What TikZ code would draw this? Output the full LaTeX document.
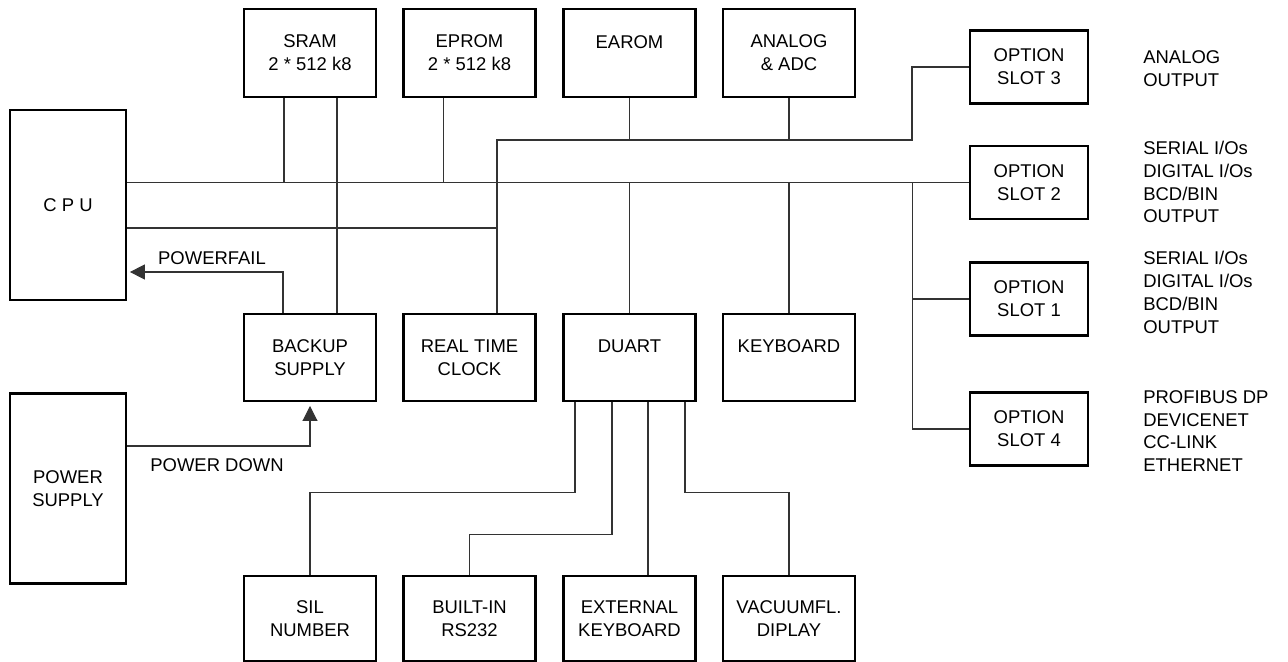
\documentclass[tikz,border=0pt]{standalone}
\usepackage{fontspec}
\setmainfont{Liberation Sans}
\usetikzlibrary{positioning,arrows.meta,calc}
\definecolor{wire}{HTML}{333333}

\begin{document}
\begin{tikzpicture}[
  x=0.02cm,y=-0.02cm,
  font=\fontsize{10.5}{13}\selectfont,>={Triangle[length=3mm,width=3mm]},
  blk/.style={draw,line width=1.4pt,minimum width=2.64cm,minimum height=1.75cm,align=center,inner sep=0pt},
  lowblk/.style={blk,minimum height=1.7cm},
  tall/.style={blk,minimum width=2.32cm,minimum height=3.8cm},
  slot/.style={blk,minimum width=2.36cm,minimum height=1.46cm},
  wire/.style={draw=wire,line width=0.6pt},
  note/.style={align=left,anchor=west,inner sep=0pt},
]
\useasboundingbox (0,0) rectangle (1288,662);
\node[tall] (cpu) at (68,205) {C P U};
\node[tall] (psu) at (68,488.5) {POWER\\SUPPLY};
% upper row
\foreach \nm/\x/\lab in {sram/310/{SRAM\\2 * 512 k8},eprom/469.5/{EPROM\\2 * 512 k8},earom/629.5/{EAROM\\~},analog/789/{ANALOG\\\& ADC}}{
  \node[blk] (\nm) at (\x,53) {\lab};
}
% middle row
\foreach \nm/\x/\lab in {backup/310/{BACKUP\\SUPPLY},rtc/469.5/{REAL TIME\\CLOCK},duart/629.5/{DUART\\~},kbd/789/{KEYBOARD\\~}}{
  \node[blk] (\nm) at (\x,357.5) {\lab};
}
% lower row
\foreach \nm/\x/\lab in {sil/310/{SIL\\NUMBER},rs232/469.5/{BUILT-IN\\RS232},extkbd/629.5/{EXTERNAL\\KEYBOARD},vfd/789/{VACUUMFL.\\DIPLAY}}{
  \node[lowblk] (\nm) at (\x,618.5) {\lab};
}
% option slots
\foreach \k/\y in {3/67,2/182.5,1/299,4/429}{
  \node[slot] (slot\k) at (1029,\y) {OPTION\\SLOT \k};
}
\node[note] (n3) at (1143,69) {ANALOG\\OUTPUT};
\node[note] (n2) at (1143,182) {SERIAL I/Os\\DIGITAL I/Os\\BCD/BIN\\OUTPUT};
\node[note] (n1) at (1143,292.5) {SERIAL I/Os\\DIGITAL I/Os\\BCD/BIN\\OUTPUT};
\node[note] (n4) at (1143,431) {PROFIBUS DP\\DEVICENET\\CC-LINK\\ETHERNET};

\coordinate (busA) at (cpu.east |- slot2.west);
\coordinate (busB) at ($(cpu.east)+(0,23)$);
\coordinate (busC) at (912,140);
\coordinate (tapS) at ($(slot2.west)+(-56,0)$);
\coordinate (rtcT) at ($(rtc.north)+(27.5,0)$);

\draw[wire] (busA) -- (slot2.west);
\draw[wire] (busB) -- (busB -| rtcT);
\draw[wire] (rtcT) |- (busC) |- (slot3.west);
\draw[wire] ($(sram.south)+(-26,0)$) coordinate (sramL) -- (sramL |- busA);
\draw[wire] ($(eprom.south)+(-26,0)$) coordinate (epromL) -- (epromL |- busA);
\draw[wire] ($(sram.south)+(27,0)$) -- ($(backup.north)+(27,0)$);
\draw[wire] (earom) -- (earom |- busC);
\draw[wire] (analog) -- (analog |- busC);
\draw[wire] (duart) -- (duart |- busA);
\draw[wire] (kbd) -- (kbd |- busA);
\draw[wire] (tapS) |- (slot4.west);
\draw[wire] (slot1.west) -- (slot1.west -| tapS);

\draw[wire,->,shorten >=1.5pt] ($(backup.north)+(-27,0)$) |- ($(cpu.east)+(0,67)$);
\node (pfail) at (212,258) {POWERFAIL};
\draw[wire,->,shorten >=2pt] ($(psu.east)+(0,-42.5)$) -| (backup.south);
\node (pdown) at (217,465) {POWER DOWN};

\draw[wire] ($(duart.south)+(-54.5,0)$) -- ++(0,90) -| (sil.north);
\draw[wire] ($(duart.south)+(-17.5,0)$) -- ++(0,132) -| (rs232.north);
\draw[wire] ($(duart.south)+(18.5,0)$) -- ($(extkbd.north)+(18.5,0)$);
\draw[wire] ($(duart.south)+(55.5,0)$) -- ++(0,90) -| (vfd.north);
\end{tikzpicture}
\end{document}
